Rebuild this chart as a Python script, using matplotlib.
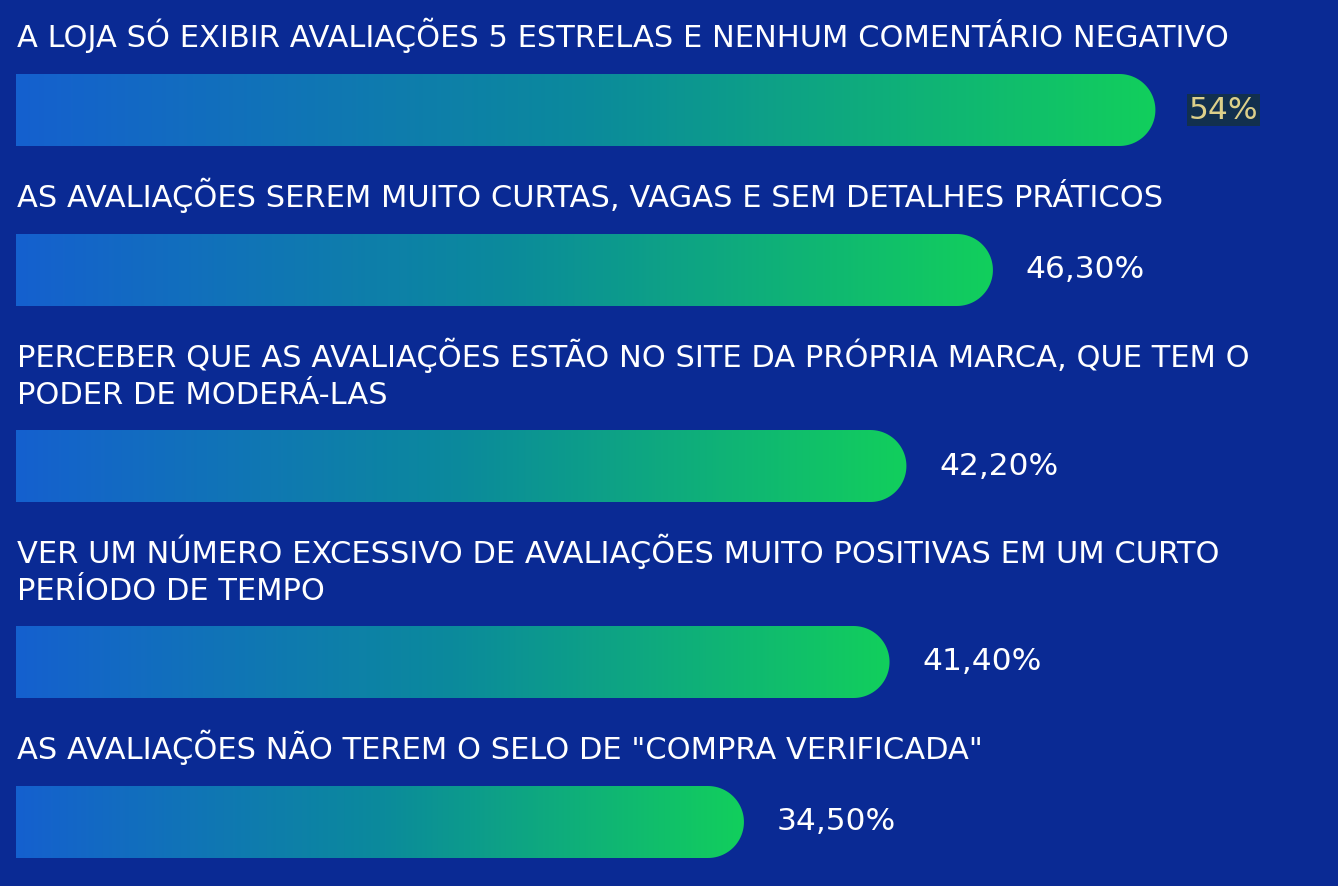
import numpy as np
import matplotlib.pyplot as plt
from matplotlib.patches import Polygon
from matplotlib.colors import LinearSegmentedColormap

categorias = [
    "A LOJA SÓ EXIBIR AVALIAÇÕES 5 ESTRELAS E NENHUM COMENTÁRIO NEGATIVO",
    "AS AVALIAÇÕES SEREM MUITO CURTAS, VAGAS E SEM DETALHES PRÁTICOS",
    "PERCEBER QUE AS AVALIAÇÕES ESTÃO NO SITE DA PRÓPRIA MARCA, QUE TEM O\nPODER DE MODERÁ-LAS",
    "VER UM NÚMERO EXCESSIVO DE AVALIAÇÕES MUITO POSITIVAS EM UM CURTO\nPERÍODO DE TEMPO",
    "AS AVALIAÇÕES NÃO TEREM O SELO DE \"COMPRA VERIFICADA\"",
]
valores = [54, 46.3, 42.2, 41.4, 34.5]
rotulos = ["54%", "46,30%", "42,20%", "41,40%", "34,50%"]

bg = "#0a2a94"
cmap = LinearSegmentedColormap.from_list("barra", ["#1560cf", "#0b8a9c", "#12cf5c"], N=1024)

W, H = 1338, 886
PX = 21.1          # pixels per percentage point
X0 = 16            # left edge of bars (px)
BAR_H = 72
LINE = 37

fig = plt.figure(figsize=(W / 100, H / 100), dpi=100)
fig.patch.set_facecolor(bg)
ax = fig.add_axes([0, 0, 1, 1])
ax.set_facecolor(bg)

grad = np.linspace(0, 1, 1024).reshape(1, -1)
th = np.linspace(-np.pi / 2, np.pi / 2, 60)
cursor = 25
for cat, v, lab in zip(categorias, valores, rotulos):
    linhas = cat.split("\n")
    for k, ln in enumerate(linhas):
        ax.text(0.05, cursor + 22 + k * LINE, ln, color="white", fontsize=22.0,
                family="DejaVu Sans", va="baseline", ha="left")
    top = cursor + 49 + (LINE - 1) * (len(linhas) - 1)
    bot = top + BAR_H
    cy = (top + bot) / 2
    rx = (BAR_H / 2) / PX
    ry = BAR_H / 2
    # rounded right end, square left end
    arc = np.column_stack([v - rx + rx * np.cos(th), cy - ry * np.sin(th)])
    verts = np.vstack([[0, bot], arc, [0, top]])
    poly = Polygon(verts, closed=True, facecolor="none", edgecolor="none")
    ax.add_patch(poly)
    im = ax.imshow(grad, cmap=cmap, extent=(0, v, bot, top), aspect="auto",
                   interpolation="bilinear")
    im.set_clip_path(poly)
    if lab == "54%":
        ax.annotate(lab, (v, cy), xytext=(33, 0), textcoords="offset pixels",
                    color="#ddd08a", fontsize=22.5, va="center", ha="left",
                    bbox=dict(boxstyle="square,pad=0.05", fc="#12304e", ec="none"))
    else:
        ax.annotate(lab, (v, cy), xytext=(33, 0), textcoords="offset pixels",
                    color="white", fontsize=22.5, va="center", ha="left")
    cursor = bot + 39

ax.set_xlim(-X0 / PX, (W - X0) / PX)
ax.set_ylim(H, 0)
ax.axis("off")
fig.savefig("out.png", dpi=100, facecolor=bg)
